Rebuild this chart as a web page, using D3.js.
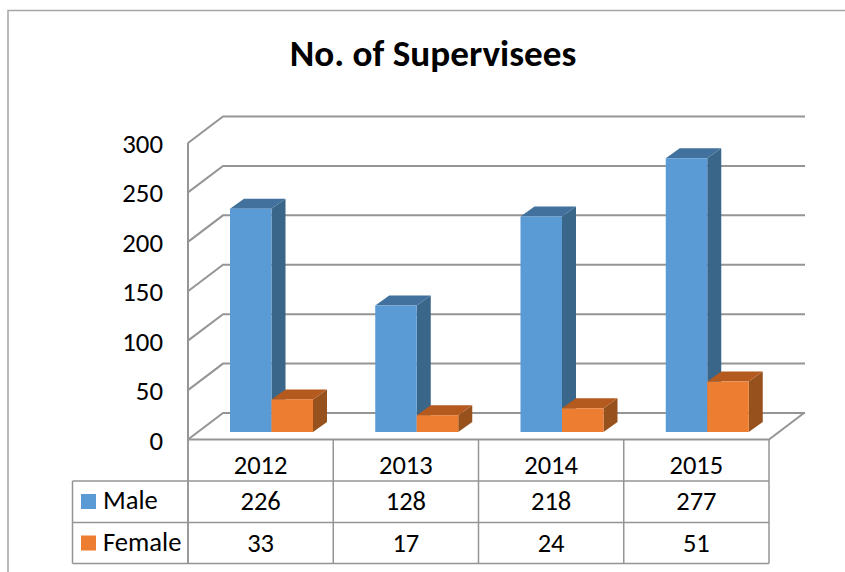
<!DOCTYPE html>
<html><head><meta charset="utf-8">
<style>html,body{margin:0;padding:0;background:#fff}svg{display:block}text{font-family:Carlito,Lato,"Open Sans",sans-serif;fill:#000}</style>
<script src="https://cdn.jsdelivr.net/npm/d3@7/dist/d3.min.js"></script></head><body>
<svg id="c" width="845" height="572"></svg>
<script>
const categories=["2012","2013","2014","2015"];
const male=[226,128,218,277];
const female=[33,17,24,51];
const yTicks=[0,50,100,150,200,250,300];
const seriesNames=["Male","Female"];
const colors=["#5b9bd5","#ed7d31"];
const tops=["#41719c","#b45a1f"];
const sides=["#3a6689","#97511d"];
const grid="#959595";
const svg=d3.select("#c");
const x=d3.scaleBand().domain(categories).range([188,769]);
const y=d3.scaleLinear().domain([0,300]).range([439.5,143]);
const inner=d3.scaleBand().domain(seriesNames).range([42,125]);
const depth=[35,-26.5], barDepth=[14,-10], barShift=-7.5;
// frame
svg.append("path").attr("d","M8,572V10.5H845").attr("fill","none").attr("stroke","#a6a6a6").attr("stroke-width",1.5);
// title
svg.append("text").attr("x",433).attr("y",66).attr("text-anchor","middle").attr("font-size",37.2).attr("font-weight",700).text("No. of Supervisees");
// walls
const g=svg.append("g").attr("fill","none").attr("stroke",grid).attr("stroke-width",2);
yTicks.forEach(t=>{
  g.append("path").attr("d",`M188,${y(t)}L${188+depth[0]},${y(t)+depth[1]}H${769+depth[0]+1}`);
});
g.append("path").attr("d",`M188,${y(300)}V${y(0)}H769L${769+depth[0]},${y(0)+depth[1]}`);
// axis labels
svg.append("g").selectAll("text").data(yTicks).join("text")
 .attr("x",163).attr("y",d=>y(d)+10).attr("text-anchor","end").attr("font-size",26.8).text(d=>d);
// bars
[male,female].forEach((vals,s)=>{
  const b=svg.append("g");
  categories.forEach((c,i)=>{
    const x0=x(c)+inner(seriesNames[s]), w=inner.bandwidth();
    const y0=y(0)+barShift, y1=y(vals[i])+barShift, dx=barDepth[0], dy=barDepth[1];
    b.append("path").attr("fill",sides[s]).attr("d",`M${x0+w},${y1}L${x0+w+dx},${y1+dy}V${y0+dy}L${x0+w},${y0}Z`);
    b.append("path").attr("fill",tops[s]).attr("d",`M${x0},${y1}L${x0+dx},${y1+dy}H${x0+w+dx}L${x0+w},${y1}Z`);
    b.append("rect").attr("fill",colors[s]).attr("x",x0).attr("y",y1).attr("width",w).attr("height",y0-y1);
  });
});
// data table
const rowY=[439.5,481,522.5,563.5];
const t=svg.append("g").attr("fill","none").attr("stroke",grid).attr("stroke-width",1.5);
t.append("path").attr("d",`M188,${rowY[0]}V${rowY[3]}M769,${rowY[0]}V${rowY[3]}M72.5,${rowY[1]}V${rowY[3]}`);
categories.forEach(c=>t.append("path").attr("d",`M${x(c)},${rowY[0]}V${rowY[3]}`));
rowY.slice(1).forEach(r=>t.append("path").attr("d",`M72.5,${r}H769`));
const cellFont=26.5;
svg.append("g").selectAll("text").data(categories).join("text")
 .attr("x",d=>x(d)+x.bandwidth()/2).attr("y",474).attr("text-anchor","middle").attr("font-size",cellFont).text(d=>d);
[male,female].forEach((vals,s)=>{
  svg.append("g").selectAll("text").data(vals).join("text")
   .attr("x",(d,i)=>x(categories[i])+x.bandwidth()/2).attr("y",rowY[s+1]+29).attr("text-anchor","middle").attr("font-size",cellFont).text(d=>d);
  svg.append("rect").attr("x",81).attr("y",rowY[s+1]+13).attr("width",15).attr("height",15).attr("fill",colors[s]);
  svg.append("text").attr("x",103).attr("y",rowY[s+1]+28).attr("font-size",26.6).text(seriesNames[s]);
});
</script></body></html>
